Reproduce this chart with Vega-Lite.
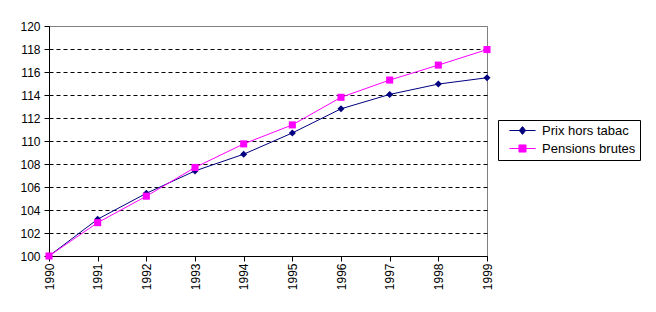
{
  "$schema": "https://vega.github.io/schema/vega-lite/v6.json",
  "width": 438,
  "height": 230,
  "autosize": {"type": "none"},
  "padding": {"left": 49, "top": 26, "right": 169, "bottom": 56},
  "background": "white",
  "config": {
    "font": "Liberation Sans",
    "view": {"stroke": "#808080", "strokeWidth": 1},
    "axis": {"labelFont": "Liberation Sans", "labelFontSize": 12, "labelColor": "black", "domainColor": "black", "tickColor": "black", "tickSize": 5, "title": null}
  },
  "data": {
    "values": [
      {"annee": "1990", "serie": "Prix hors tabac", "valeur": 100},
      {"annee": "1991", "serie": "Prix hors tabac", "valeur": 103.2},
      {"annee": "1992", "serie": "Prix hors tabac", "valeur": 105.45},
      {"annee": "1993", "serie": "Prix hors tabac", "valeur": 107.4},
      {"annee": "1994", "serie": "Prix hors tabac", "valeur": 108.85},
      {"annee": "1995", "serie": "Prix hors tabac", "valeur": 110.7},
      {"annee": "1996", "serie": "Prix hors tabac", "valeur": 112.8},
      {"annee": "1997", "serie": "Prix hors tabac", "valeur": 114.05},
      {"annee": "1998", "serie": "Prix hors tabac", "valeur": 114.95},
      {"annee": "1999", "serie": "Prix hors tabac", "valeur": 115.5},
      {"annee": "1990", "serie": "Pensions brutes", "valeur": 100},
      {"annee": "1991", "serie": "Pensions brutes", "valeur": 102.9},
      {"annee": "1992", "serie": "Pensions brutes", "valeur": 105.2},
      {"annee": "1993", "serie": "Pensions brutes", "valeur": 107.7},
      {"annee": "1994", "serie": "Pensions brutes", "valeur": 109.75},
      {"annee": "1995", "serie": "Pensions brutes", "valeur": 111.4},
      {"annee": "1996", "serie": "Pensions brutes", "valeur": 113.8},
      {"annee": "1997", "serie": "Pensions brutes", "valeur": 115.3},
      {"annee": "1998", "serie": "Pensions brutes", "valeur": 116.6},
      {"annee": "1999", "serie": "Pensions brutes", "valeur": 117.95}
    ]
  },
  "encoding": {
    "x": {
      "field": "annee", "type": "ordinal",
      "scale": {"type": "point", "padding": 0},
      "axis": {"labelAngle": -90, "labelPadding": 2, "grid": false}
    },
    "y": {
      "field": "valeur", "type": "quantitative",
      "scale": {"domain": [100, 120], "nice": false, "zero": false},
      "axis": {
        "values": [100, 102, 104, 106, 108, 110, 112, 114, 116, 118, 120],
        "labelPadding": 4,
        "grid": true,
        "gridColor": {"condition": {"test": "datum.value >= 120", "value": "#808080"}, "value": "black"},
        "gridDash": {"condition": {"test": "datum.value >= 120", "value": []}, "value": [4, 3]},
        "gridWidth": 1
      }
    },
    "color": {
      "field": "serie", "type": "nominal",
      "scale": {"domain": ["Prix hors tabac", "Pensions brutes"], "range": ["#000080", "#FF00FF"]},
      "legend": {
        "title": null, "orient": "none", "legendX": 449, "legendY": 94,
        "strokeColor": "black", "fillColor": "white", "padding": 4,
        "labelFontSize": 13, "labelFont": "Liberation Sans", "symbolSize": 50, "rowPadding": 4,
        "symbolOffset": 14, "labelOffset": 13, "symbolStrokeWidth": 1
      }
    }
  },
  "layer": [
    {"mark": {"type": "line", "strokeWidth": 1}},
    {
      "transform": [{"filter": "datum.serie === 'Prix hors tabac'"}],
      "mark": {"type": "point", "filled": true, "opacity": 1, "shape": "diamond", "size": 50}
    },
    {
      "transform": [{"filter": "datum.serie === 'Pensions brutes'"}],
      "mark": {"type": "point", "filled": true, "opacity": 1, "shape": "square", "size": 50}
    },
    {
      "mark": {"type": "point", "filled": true, "opacity": 1, "size": 0, "strokeWidth": 1},
      "encoding": {
        "shape": {
          "field": "serie", "type": "nominal",
          "scale": {"domain": ["Prix hors tabac", "Pensions brutes"], "range": ["M-3.7,0H3.7M0,-1.1L0.9,0L0,1.1L-0.9,0Z", "M-3.7,0H3.7M-1,-1H1V1H-1Z"]}
        },
        "stroke": {
          "field": "serie", "type": "nominal",
          "scale": {"domain": ["Prix hors tabac", "Pensions brutes"], "range": ["#000080", "#FF00FF"]}
        }
      }
    }
  ]
}
